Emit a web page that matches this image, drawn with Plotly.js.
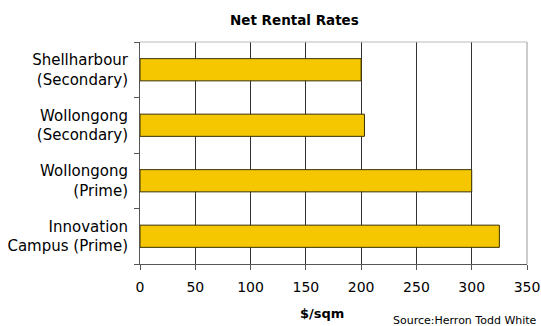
<!DOCTYPE html>
<html><head><meta charset="utf-8">
<script src="https://cdn.plot.ly/plotly-3.0.1.min.js"></script>
<style>html,body{margin:0;padding:0;background:#fff}</style>
</head><body>
<div id="chart" style="width:541px;height:326px"></div>
<script>
const categories = ["Innovation<br>Campus (Prime)", "Wollongong<br>(Prime)", "Wollongong<br>(Secondary)", "Shellharbour<br>(Secondary)"];
const values = [325, 300, 203, 200];
const xTicks = [0, 50, 100, 150, 200, 250, 300, 350];

const font = "DejaVu Sans, Verdana, sans-serif";
Plotly.newPlot("chart", [{
  type: "bar", orientation: "h", y: categories, x: values, width: 0.4,
  marker: {color: "#F4C700", line: {color: "#3a3000", width: 1}},
  hoverinfo: "none"
}], {
  width: 541, height: 326,
  margin: {l: 140, r: 14, t: 42, b: 62},
  paper_bgcolor: "#fff", plot_bgcolor: "#fff",
  showlegend: false,
  font: {family: font, color: "#000"},
  xaxis: {range: [0, 350], tickvals: xTicks, ticktext: xTicks.map(String),
    showgrid: true, gridcolor: "#333", gridwidth: 1, zeroline: false,
    showline: true, linecolor: "#555", linewidth: 1,
    ticks: "outside", ticklen: 5, tickcolor: "#555",
    tickfont: {size: 14, family: font}, ticklabelstandoff: 5, fixedrange: true},
  yaxis: {type: "category", categoryorder: "array", categoryarray: categories,
    tickson: "boundaries", ticks: "outside", ticklen: 5, tickcolor: "#555",
    showline: true, linecolor: "#555", linewidth: 1, showgrid: false,
    tickfont: {size: 15, family: font}, ticklabelstandoff: 8, fixedrange: true},
  shapes: [
    {type: "line", xref: "paper", yref: "paper", x0: 1, x1: 1, y0: 0, y1: 1, line: {color: "#999", width: 1}},
    {type: "line", xref: "paper", yref: "paper", x0: 0, x1: 1, y0: 1, y1: 1, line: {color: "#bbb", width: 1}}
  ],
  annotations: [
    {text: "<b>Net Rental Rates</b>", xref: "paper", yref: "paper", x: (294-140)/387, y: 1, yshift: 22,
     showarrow: false, xanchor: "center", yanchor: "middle", font: {size: 13.5, family: font}},
    {text: "<b>$/sqm</b>", xref: "paper", yref: "paper", x: (322-140)/387, y: 0, yshift: -49,
     showarrow: false, xanchor: "center", yanchor: "middle", font: {size: 13, family: font}},
    {text: "Source:Herron Todd White", xref: "paper", yref: "paper", x: 1, xshift: 12, y: 0, yshift: -56,
     showarrow: false, xanchor: "right", yanchor: "middle", font: {size: 11, family: font}}
  ]
}, {displayModeBar: false, staticPlot: true});
</script>
</body></html>
